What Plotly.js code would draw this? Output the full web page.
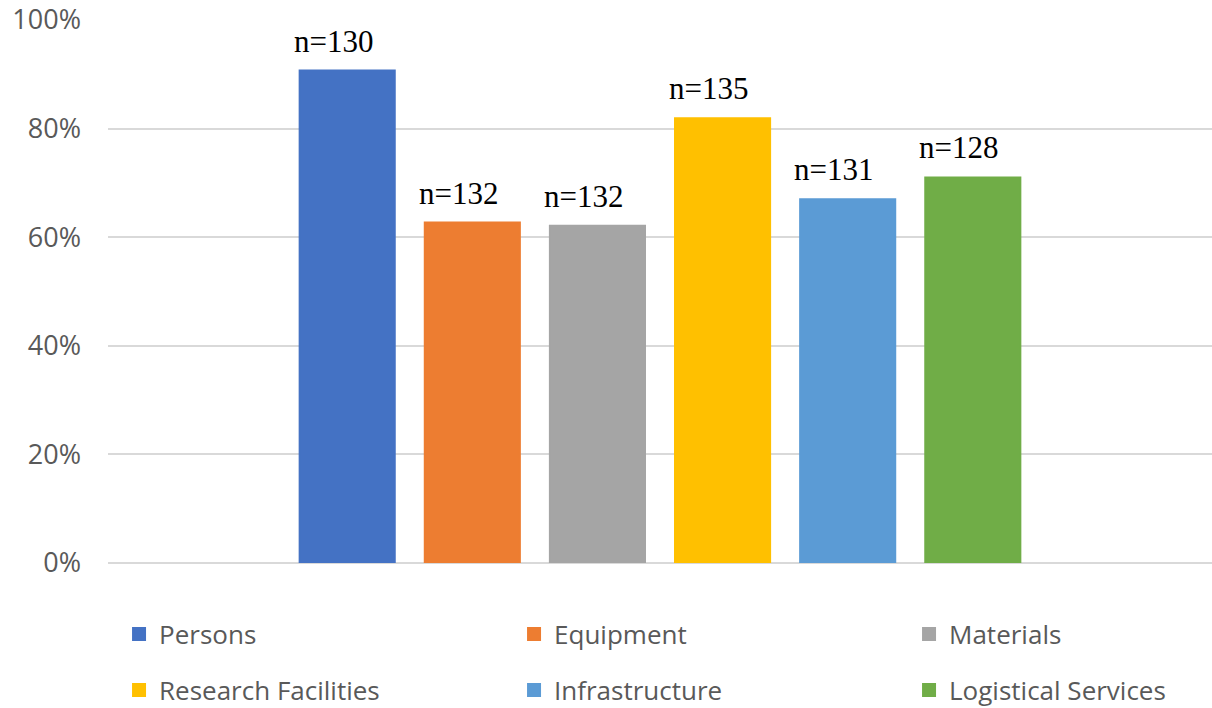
<!DOCTYPE html>
<html>
<head>
<meta charset="utf-8">
<script src="https://cdn.plot.ly/plotly-3.0.1.min.js"></script>
<style>html,body{margin:0;padding:0;background:#fff;}#chart{width:1212px;height:708px;}</style>
</head>
<body>
<div id="chart"></div>
<script>
const categories = ["Support"];
const seriesNames = ["Persons", "Equipment", "Materials", "Research Facilities", "Infrastructure", "Logistical Services"];
const seriesValues = [90.7, 62.7, 62.1, 81.9, 67.0, 71.0];
const sampleLabels = ["n=130", "n=132", "n=132", "n=135", "n=131", "n=128"];
const yTickValues = [0, 20, 40, 60, 80, 100];
const yTickLabels = ["0%", "20%", "40%", "60%", "80%", "100%"];
const colors = ["#4472C4", "#ED7D31", "#A5A5A5", "#FFC000", "#5B9BD5", "#70AD47"];

const BARGAP = 0.32;
const BARGROUPGAP = 0.24;
const nSeries = seriesNames.length;
const slot = (1 - BARGAP) / nSeries;

const traces = seriesNames.map((name, i) => {
  const t = {
    type: "bar",
    name: name,
    x: categories,
    y: [seriesValues[i]],
    marker: {color: colors[i], line: {color: colors[i], width: 2}},
    legend: i < 3 ? "legend" : "legend2",
    hoverinfo: "skip"
  };
  // last entry of each legend row gets a narrower entry width
  if (i === 2) t.legendwidth = 150;
  if (i === 5) t.legendwidth = 240;
  return t;
});

// n= labels above each bar, placed on the category axis at each bar's slot
const annotations = seriesNames.map((name, i) => ({
  xref: "x", yref: "y",
  x: -0.5 + BARGAP / 2 + slot * (i + 0.5),
  y: seriesValues[i],
  text: sampleLabels[i],
  showarrow: false,
  xanchor: "center", yanchor: "bottom",
  xshift: -14, yshift: 10,
  font: {family: "Liberation Serif, Times New Roman, serif", size: 31, color: "#000"}
}));

const legendBase = {
  orientation: "h",
  x: 0.01, xanchor: "left",
  yanchor: "middle",
  font: {family: "Open Sans, Noto Sans, sans-serif", size: 26, color: "#595959"},
  entrywidth: 350, entrywidthmode: "pixels",
  bgcolor: "rgba(0,0,0,0)",
  traceorder: "normal"
};

const layout = {
  width: 1212, height: 708,
  margin: {l: 108, r: 0, t: 20, b: 145, autoexpand: false},
  paper_bgcolor: "#fff", plot_bgcolor: "#fff",
  barmode: "group",
  bargap: BARGAP,
  bargroupgap: BARGROUPGAP,
  showlegend: true,
  xaxis: {
    type: "category",
    range: [-0.5, 0.5],
    showticklabels: false,
    showgrid: false, zeroline: false, showline: false, ticks: ""
  },
  yaxis: {
    range: [0, 100],
    tickvals: yTickValues,
    ticktext: yTickLabels,
    tickfont: {family: "Open Sans, Noto Sans, sans-serif", size: 27, color: "#595959"},
    ticklabelstandoff: 26,
    showgrid: true, gridcolor: "#d9d9d9", gridwidth: 2,
    zeroline: true, zerolinecolor: "#d9d9d9", zerolinewidth: 2,
    showline: false, ticks: ""
  },
  annotations: annotations,
  legend: Object.assign({}, legendBase, {y: -0.1308}),
  legend2: Object.assign({}, legendBase, {y: -0.2339})
};

Plotly.newPlot("chart", traces, layout, {displayModeBar: false, staticPlot: true});
</script>
</body>
</html>
